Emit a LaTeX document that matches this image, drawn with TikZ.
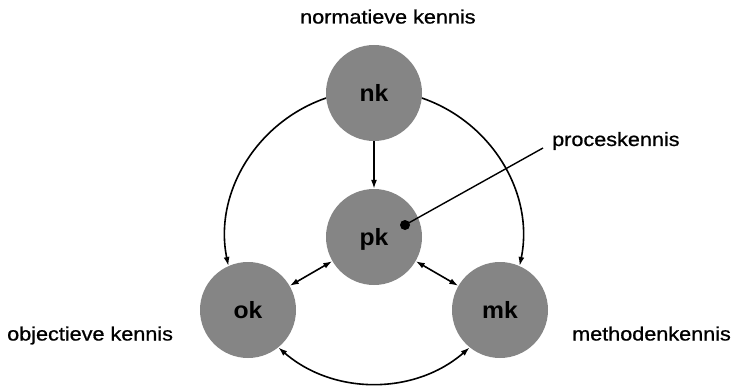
\documentclass[tikz,border=0pt]{standalone}
\usepackage{fontspec}
\setmainfont{Liberation Sans}
\newfontfamily\lblfont{Liberation Sans}[FakeStretch=1.12,FakeBold=0.8]
\newfontfamily\abbrfont{Liberation Sans}[FakeStretch=1.05]
\usetikzlibrary{arrows.meta}
\begin{document}
\begin{tikzpicture}[x=1pt,y=1pt,
  kennis/.style={circle,fill=black!48,minimum size=96pt,inner sep=0pt,
    text height=17pt,text depth=0pt,
    font=\abbrfont\bfseries\fontsize{23.5}{26}\selectfont},
  lbl/.style={inner sep=0pt,anchor=base west,
    font=\lblfont\fontsize{19.3}{23}\selectfont},
  link/.style={line width=1.6pt},
  tip/.style={-{Latex[length=9pt,width=6pt]}},
  tips/.style={{Latex[length=9pt,width=6pt]}-{Latex[length=9pt,width=6pt]}}]
\useasboundingbox (0,0) rectangle (736,386);

% the four kinds of knowledge
\node[kennis] (nk) at (374,293) {nk};
\node[kennis] (pk) at (374,149) {pk};
\node[kennis] (ok) at (248,76) {ok};
\node[kennis] (mk) at (500,76) {mk};

% captions
\node[lbl] (lnk) at (300,362.5) {normatieve kennis};
\node[lbl] (lok) at (7,45.5) {objectieve kennis};
\node[lbl] (lmk) at (572,45.5) {methodenkennis};
\node[lbl] (lpk) at (552,240) {proceskennis};

% outer ring
\draw[link,tip] (nk.186) to[out=199,in=101.6,distance=73.9pt] (ok.114);
\draw[link,tip] (nk.-6) to[out=-19,in=78.4,distance=73.9pt] (mk.66);
\draw[link,tips] (ok.-51) to[out=-41,in=-139,distance=72.9pt] (mk.-129);

% spokes
\draw[link,tip] (nk) -- (pk);
\draw[link,tips] (pk) -- (ok);
\draw[link,tips] (pk) -- (mk);

% pointer to the process-knowledge caption
\node[circle,fill=black,inner sep=0pt,minimum size=10pt] (dot) at (405,161) {};
\draw[line width=1.4pt] (dot.center) -- ([xshift=-9pt,yshift=-2pt]lpk.base west);
\end{tikzpicture}
\end{document}
